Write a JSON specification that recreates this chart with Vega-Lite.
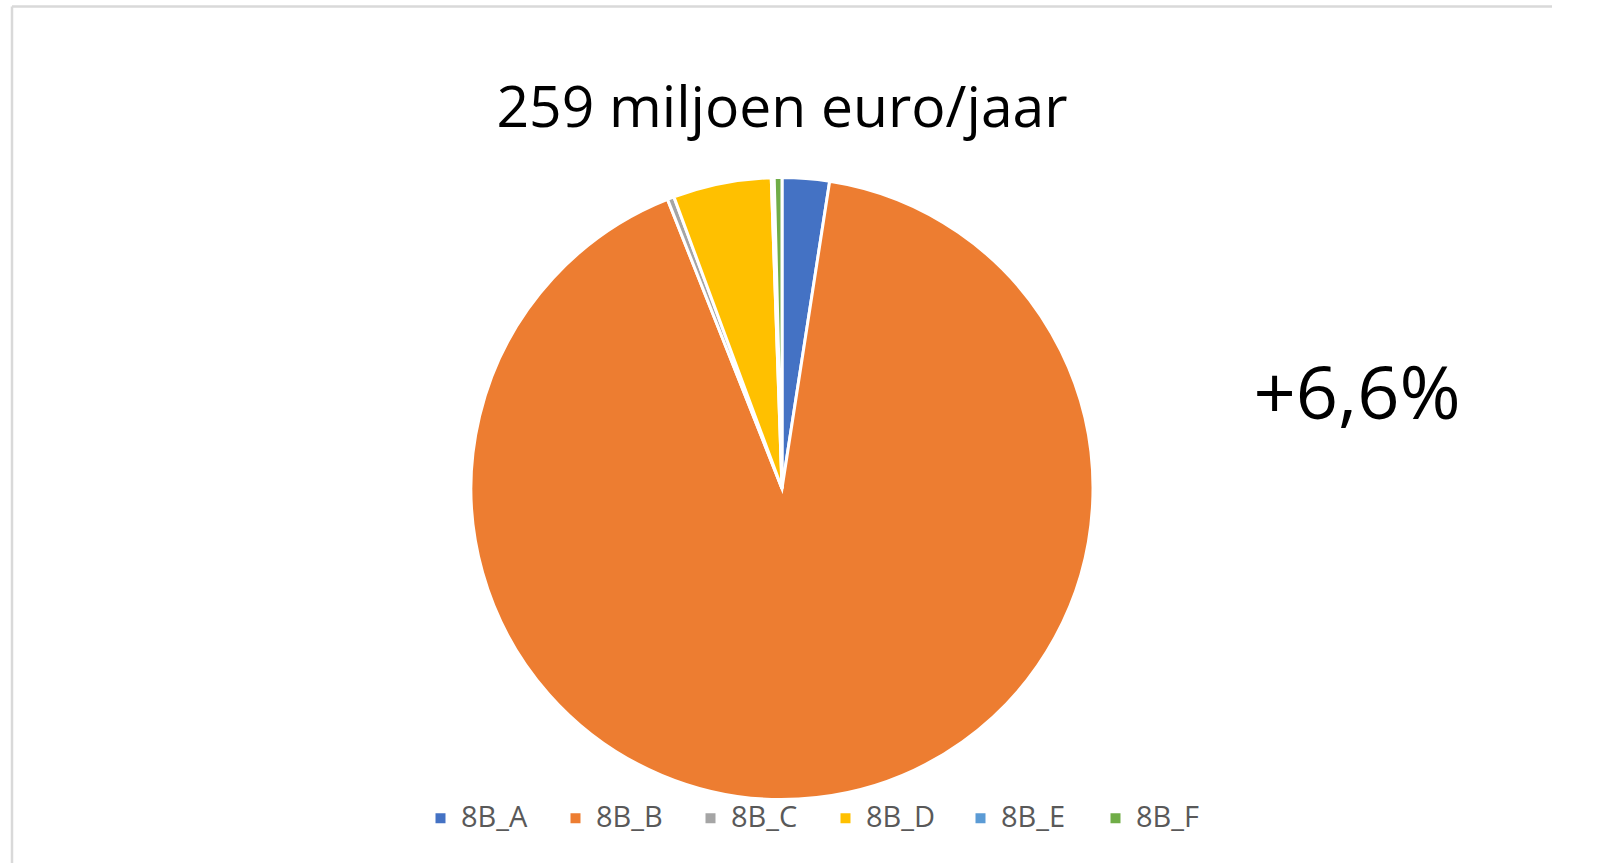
{
  "$schema": "https://vega.github.io/schema/vega-lite/v6.json",
  "autosize": {"type": "none"},
  "padding": {"left": 12, "top": 6.5, "right": 48, "bottom": -107.5},
  "width": 1540,
  "height": 964,
  "background": "white",
  "title": {
    "text": "259 miljoen euro/jaar",
    "anchor": "middle",
    "orient": "top",
    "offset": -179,
    "baseline": "alphabetic",
    "font": "Open Sans",
    "fontSize": 57,
    "fontWeight": "normal",
    "color": "#000000"
  },
  "layer": [
    {
      "data": {"values": [{"kader": "grafiekgebied"}]},
      "mark": {
        "type": "rect",
        "filled": false,
        "stroke": "#D9D9D9",
        "strokeWidth": 2.5,
        "strokeDash": [1540, 2504, 964, 0]
      },
      "encoding": {}
    },
    {
      "data": {
        "values": [
          {"categorie": "8B_A", "aandeel": 2.45},
          {"categorie": "8B_B", "aandeel": 91.55},
          {"categorie": "8B_C", "aandeel": 0.35},
          {"categorie": "8B_D", "aandeel": 5.1},
          {"categorie": "8B_E", "aandeel": 0.15},
          {"categorie": "8B_F", "aandeel": 0.4}
        ]
      },
      "mark": {"type": "arc", "outerRadius": 311, "stroke": "white", "strokeWidth": 3},
      "encoding": {
        "theta": {"field": "aandeel", "type": "quantitative", "stack": true},
        "color": {
          "field": "categorie",
          "type": "nominal",
          "scale": {
            "domain": ["8B_A", "8B_B", "8B_C", "8B_D", "8B_E", "8B_F"],
            "range": ["#4472C4", "#ED7D31", "#A5A5A5", "#FFC000", "#5B9BD5", "#70AD47"]
          },
          "legend": {
            "orient": "none",
            "legendX": 414,
            "legendY": 797,
            "direction": "horizontal",
            "title": null,
            "symbolType": "square",
            "symbolSize": 100,
            "symbolStrokeWidth": 0,
            "labelFont": "Open Sans",
            "labelFontSize": 29,
            "labelColor": "#595959",
            "labelOffset": 6,
            "columnPadding": 30,
            "gridAlign": "all",
            "padding": 0
          }
        }
      }
    },
    {
      "data": {"values": [{"label": "+6,6%"}]},
      "mark": {
        "type": "text",
        "font": "Open Sans",
        "fontSize": 74,
        "dx": 575,
        "dy": -70,
        "baseline": "alphabetic",
        "align": "center",
        "color": "#000000"
      },
      "encoding": {"text": {"field": "label"}}
    }
  ],
  "config": {
    "view": {"stroke": null}
  }
}
